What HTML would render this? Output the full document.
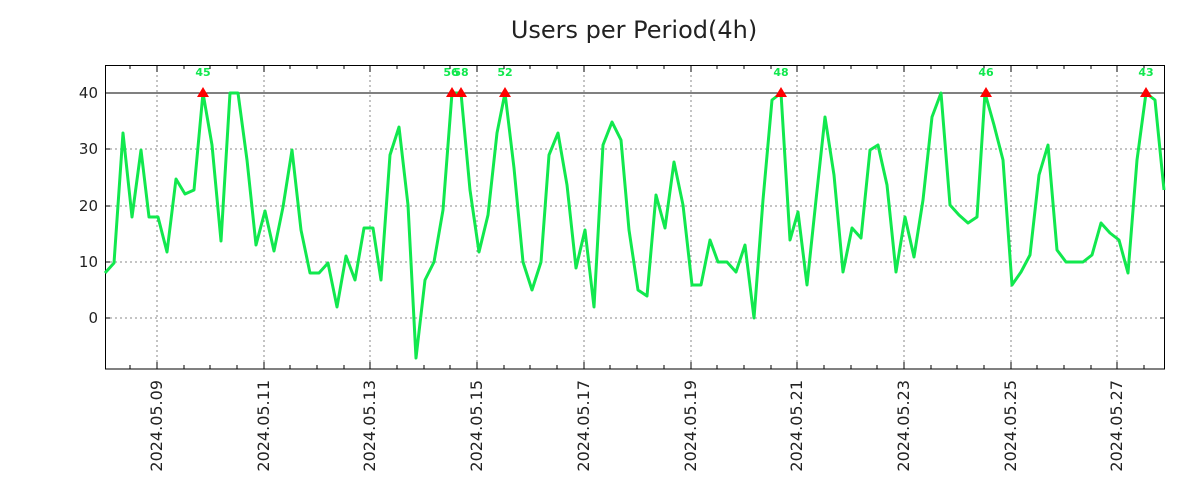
<!DOCTYPE html>
<html><head><meta charset="utf-8"><style>body{margin:0;background:#fff}svg{display:block}</style></head><body>
<svg width="1200" height="500" xmlns="http://www.w3.org/2000/svg" font-family="DejaVu Sans, Liberation Sans, sans-serif">
<rect width="1200" height="500" fill="#fff"/>
<text x="634" y="38" font-size="24" text-anchor="middle" fill="#222">Users per Period(4h)</text>
<g stroke="#888" stroke-dasharray="2,3" stroke-width="1">
<line x1="105" x2="1165" y1="149" y2="149"/><line x1="105" x2="1165" y1="206" y2="206"/><line x1="105" x2="1165" y1="262" y2="262"/><line x1="105" x2="1165" y1="318" y2="318"/>
<line x1="157" x2="157" y1="65" y2="369"/><line x1="264" x2="264" y1="65" y2="369"/><line x1="370" x2="370" y1="65" y2="369"/><line x1="477" x2="477" y1="65" y2="369"/><line x1="584" x2="584" y1="65" y2="369"/><line x1="691" x2="691" y1="65" y2="369"/><line x1="797" x2="797" y1="65" y2="369"/><line x1="904" x2="904" y1="65" y2="369"/><line x1="1011" x2="1011" y1="65" y2="369"/><line x1="1117" x2="1117" y1="65" y2="369"/>
</g>
<line x1="105" x2="1165" y1="93" y2="93" stroke="#000" stroke-width="1"/>
<rect x="105.5" y="65.5" width="1059" height="303.5" fill="none" stroke="#000" stroke-width="1"/>
<g stroke="#000" stroke-width="1">
<path d="M105 93h5M105 149h5M105 206h5M105 262h5M105 318h5M1165 93h-5M1165 149h-5M1165 206h-5M1165 262h-5M1165 318h-5"/>
<path d="M130 369v-4M157 369v-7M184 369v-4M210 369v-4M237 369v-4M264 369v-7M290 369v-4M317 369v-4M344 369v-4M370 369v-7M397 369v-4M424 369v-4M450 369v-4M477 369v-7M504 369v-4M530 369v-4M557 369v-4M584 369v-7M610 369v-4M637 369v-4M664 369v-4M691 369v-7M717 369v-4M744 369v-4M771 369v-4M797 369v-7M824 369v-4M851 369v-4M877 369v-4M904 369v-7M931 369v-4M957 369v-4M984 369v-4M1011 369v-7M1037 369v-4M1064 369v-4M1091 369v-4M1117 369v-7M1144 369v-4"/>
<path d="M130 65v4M157 65v7M184 65v4M210 65v4M237 65v4M264 65v7M290 65v4M317 65v4M344 65v4M370 65v7M397 65v4M424 65v4M450 65v4M477 65v7M504 65v4M530 65v4M557 65v4M584 65v7M610 65v4M637 65v4M664 65v4M691 65v7M717 65v4M744 65v4M771 65v4M797 65v7M824 65v4M851 65v4M877 65v4M904 65v7M931 65v4M957 65v4M984 65v4M1011 65v7M1037 65v4M1064 65v4M1091 65v4M1117 65v7M1144 65v4"/>
</g>
<g font-size="15" fill="#222" text-anchor="end">
<text x="98" y="98">40</text><text x="98" y="154">30</text><text x="98" y="211">20</text><text x="98" y="267">10</text><text x="98" y="323">0</text>
</g>
<g font-size="16" fill="#222" text-anchor="end">
<text transform="translate(162,380) rotate(-90)">2024.05.09</text>
<text transform="translate(269,380) rotate(-90)">2024.05.11</text>
<text transform="translate(375,380) rotate(-90)">2024.05.13</text>
<text transform="translate(482,380) rotate(-90)">2024.05.15</text>
<text transform="translate(589,380) rotate(-90)">2024.05.17</text>
<text transform="translate(696,380) rotate(-90)">2024.05.19</text>
<text transform="translate(802,380) rotate(-90)">2024.05.21</text>
<text transform="translate(909,380) rotate(-90)">2024.05.23</text>
<text transform="translate(1016,380) rotate(-90)">2024.05.25</text>
<text transform="translate(1122,380) rotate(-90)">2024.05.27</text>
</g>
<polyline fill="none" stroke="#11e84e" stroke-width="3" stroke-linejoin="round" points="105,273 114,263 123,133 132,217 141,150 149,217 158,217 167,252 176,179 185,194 194,190 203,93 212,145 221,241 230,93 238,93 247,160 256,245 265,211 274,251 283,207 292,150 301,230 310,273 319,273 328,263 337,307 346,256 355,280 364,228 373,228 381,280 390,155 399,127 408,205 416,358 425,280 434,262 443,210 452,93 461,93 470,190 479,252 488,215 497,133 505,93 514,168 523,262 532,290 541,262 549,155 558,133 567,185 576,268 585,230 594,307 603,145 612,122 621,140 629,230 638,290 647,296 656,195 665,228 674,162 683,205 692,285 701,285 710,240 718,262 727,262 736,272 745,245 754,318 763,200 772,100 781,93 790,240 798,212 807,285 816,200 825,117 834,175 843,272 852,228 861,238 870,150 878,145 887,185 896,272 905,217 914,257 923,200 932,117 941,93 950,205 959,215 968,223 977,217 985,93 994,125 1003,160 1012,285 1021,272 1030,255 1039,175 1048,145 1057,250 1066,262 1075,262 1083,262 1092,255 1101,223 1110,233 1119,240 1128,273 1137,160 1146,93 1155,100 1164,190"/>
<g fill="#f00">
<path d="M203 87l-6 10h12z"/><path d="M452 87l-6 10h12z"/><path d="M461 87l-6 10h12z"/><path d="M505 87l-6 10h12z"/><path d="M781 87l-6 10h12z"/><path d="M986 87l-6 10h12z"/><path d="M1146 87l-6 10h12z"/>
</g>
<g font-size="11" font-weight="bold" fill="#11e84e" text-anchor="middle">
<text x="203" y="76">45</text><text x="451" y="76">56</text><text x="461" y="76">58</text><text x="505" y="76">52</text><text x="781" y="76">48</text><text x="986" y="76">46</text><text x="1146" y="76">43</text>
</g>
</svg>
</body></html>
